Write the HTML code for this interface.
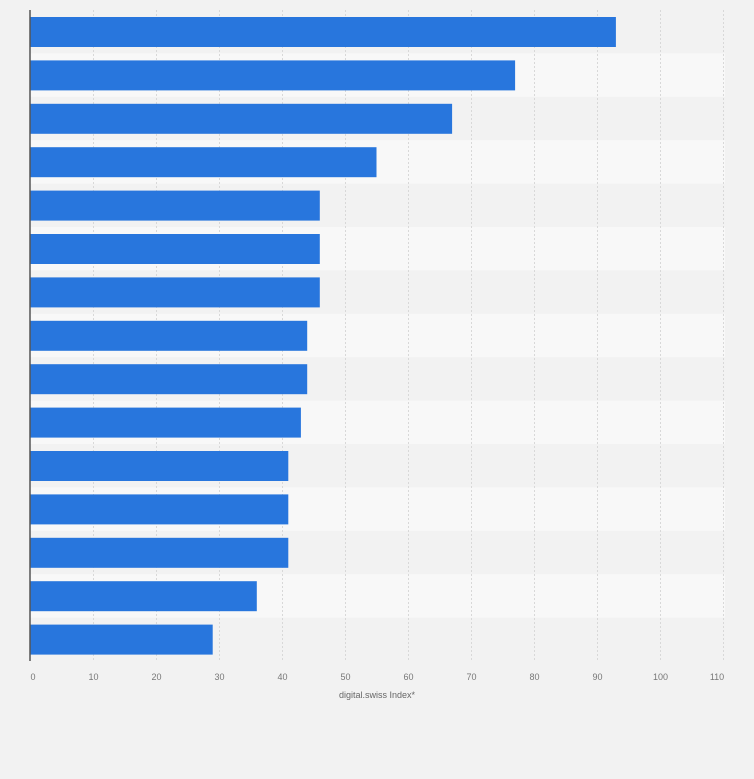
<!DOCTYPE html>
<html><head><style>
body{margin:0;background:#f2f2f2;font-family:"Liberation Sans",sans-serif;}
</style></head><body>
<svg width="754" height="779" xmlns="http://www.w3.org/2000/svg" style="display:block">
<rect width="754" height="779" fill="#f2f2f2"/>
<g fill="#f8f8f8">
<rect x="30" y="53.4" width="695" height="43.4"/>
<rect x="30" y="140.2" width="695" height="43.4"/>
<rect x="30" y="227" width="695" height="43.4"/>
<rect x="30" y="313.8" width="695" height="43.4"/>
<rect x="30" y="400.6" width="695" height="43.4"/>
<rect x="30" y="487.4" width="695" height="43.4"/>
<rect x="30" y="574.2" width="695" height="43.4"/>
</g>
<g stroke="#d8d8d8" stroke-dasharray="2,2" stroke-width="1">
<line x1="93.5" y1="10" x2="93.5" y2="661"/>
<line x1="156.5" y1="10" x2="156.5" y2="661"/>
<line x1="219.5" y1="10" x2="219.5" y2="661"/>
<line x1="282.5" y1="10" x2="282.5" y2="661"/>
<line x1="345.5" y1="10" x2="345.5" y2="661"/>
<line x1="408.5" y1="10" x2="408.5" y2="661"/>
<line x1="471.5" y1="10" x2="471.5" y2="661"/>
<line x1="534.5" y1="10" x2="534.5" y2="661"/>
<line x1="597.5" y1="10" x2="597.5" y2="661"/>
<line x1="660.5" y1="10" x2="660.5" y2="661"/>
<line x1="723.5" y1="10" x2="723.5" y2="661"/>
</g>
<g fill="#2876dd">
<rect x="30" y="17" width="585.9" height="30"/>
<rect x="30" y="60.4" width="485.1" height="30"/>
<rect x="30" y="103.8" width="422.1" height="30"/>
<rect x="30" y="147.2" width="346.5" height="30"/>
<rect x="30" y="190.6" width="289.8" height="30"/>
<rect x="30" y="234" width="289.8" height="30"/>
<rect x="30" y="277.4" width="289.8" height="30"/>
<rect x="30" y="320.8" width="277.2" height="30"/>
<rect x="30" y="364.2" width="277.2" height="30"/>
<rect x="30" y="407.6" width="270.9" height="30"/>
<rect x="30" y="451" width="258.3" height="30"/>
<rect x="30" y="494.4" width="258.3" height="30"/>
<rect x="30" y="537.8" width="258.3" height="30"/>
<rect x="30" y="581.2" width="226.8" height="30"/>
<rect x="30" y="624.6" width="182.7" height="30"/>
</g>
<line x1="30" y1="10" x2="30" y2="661" stroke="#555" stroke-width="1.5"/>
<g font-size="9" fill="#777" text-anchor="middle">
<text x="33" y="680">0</text>
<text x="93.5" y="680">10</text>
<text x="156.5" y="680">20</text>
<text x="219.5" y="680">30</text>
<text x="282.5" y="680">40</text>
<text x="345.5" y="680">50</text>
<text x="408.5" y="680">60</text>
<text x="471.5" y="680">70</text>
<text x="534.5" y="680">80</text>
<text x="597.5" y="680">90</text>
<text x="660.5" y="680">100</text>
<text x="717" y="680">110</text>
</g>
<text x="377" y="698" font-size="9" fill="#666" text-anchor="middle">digital.swiss Index*</text>
</svg>
</body></html>
